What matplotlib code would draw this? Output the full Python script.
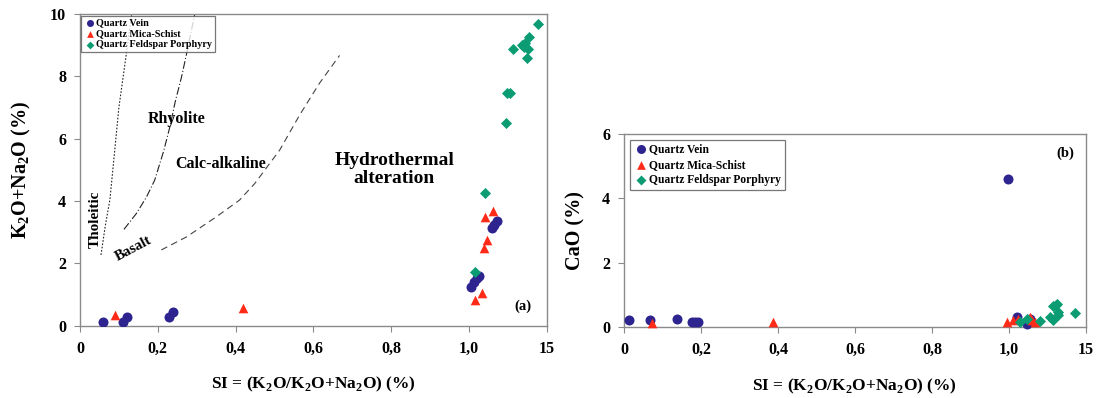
import matplotlib
matplotlib.use("Agg")
import matplotlib.pyplot as plt
from matplotlib.ticker import FixedLocator

plt.rcParams['font.family'] = ['Liberation Serif', 'DejaVu Serif']
plt.rcParams['font.weight'] = 'bold'
plt.rcParams['mathtext.fontset'] = 'custom'
plt.rcParams['mathtext.rm'] = 'Liberation Serif:bold'
plt.rcParams['mathtext.bf'] = 'Liberation Serif:bold'

# ---------------- data: panel (a) K2O+Na2O vs SI ----------------
vein_a_si = [0.059, 0.111, 0.120, 0.228, 0.239, 1.004, 1.013, 1.021, 1.026, 1.058, 1.064, 1.071]
vein_a_alk = [0.13, 0.13, 0.29, 0.29, 0.43, 1.25, 1.41, 1.52, 1.59, 3.12, 3.23, 3.37]

schist_a_si = [0.091, 0.420, 1.015, 1.032, 1.038, 1.045, 1.041, 1.062]
schist_a_alk = [0.34, 0.56, 0.82, 1.04, 2.48, 2.75, 3.49, 3.69]

porph_a_si = [1.015, 1.041, 1.094, 1.097, 1.105, 1.114, 1.135, 1.144, 1.154, 1.152, 1.148, 1.140, 1.178]
porph_a_alk = [1.73, 4.26, 6.49, 7.47, 7.47, 8.89, 9.02, 9.07, 9.26, 8.89, 8.59, 8.95, 9.67]

# field boundaries
thol_si = [0.054, 0.065, 0.077, 0.100, 0.120, 0.133]
thol_alk = [2.27, 3.20, 4.05, 7.00, 8.80, 10.0]

rhyo_si = [0.113, 0.145, 0.171, 0.192, 0.215, 0.231, 0.245, 0.261, 0.274, 0.295]
rhyo_alk = [3.09, 3.60, 4.13, 4.67, 5.60, 6.38, 7.20, 7.98, 8.73, 10.0]

calc_si = [0.209, 0.274, 0.350, 0.410, 0.449, 0.513, 0.564, 0.615, 0.667]
calc_alk = [2.43, 2.85, 3.49, 4.03, 4.56, 5.63, 6.75, 7.77, 8.67]

# ---------------- data: panel (b) CaO vs SI ----------------
vein_b_si = [0.014, 0.067, 0.137, 0.176, 0.185, 0.193, 0.998, 1.020, 1.046, 1.056]
vein_b_cao = [0.22, 0.22, 0.24, 0.17, 0.17, 0.17, 4.60, 0.30, 0.10, 0.25]

schist_b_si = [0.073, 0.386, 0.996, 1.011, 1.024, 1.054, 1.060, 1.067]
schist_b_cao = [0.13, 0.17, 0.17, 0.22, 0.24, 0.30, 0.22, 0.17]

porph_b_si = [1.028, 1.048, 1.082, 1.107, 1.114, 1.114, 1.123, 1.127, 1.127, 1.125, 1.171]
porph_b_cao = [0.17, 0.24, 0.19, 0.32, 0.22, 0.64, 0.68, 0.47, 0.37, 0.70, 0.45]

x_ticks = [0, 0.2, 0.4, 0.6, 0.8, 1.0, 1.2]
x_tick_labels = ["0", "0,2", "0,4", "0,6", "0,8", "1,0", "15"]

series_names = ["Quartz Vein", "Quartz Mica-Schist", "Quartz Feldspar Porphyry"]
colors = ["#2e2490", "#ff2a17", "#0c9c73"]
markers = ["o", "^", "D"]
sizes = [52, 48, 32]

XLABEL = r"SI = (K$_2$O/K$_2$O+Na$_2$O) (%)"
spine_col = "#8a8a8a"

fig = plt.figure(figsize=(10.97, 3.98), dpi=100)
ax_a = fig.add_axes([0.0729, 0.1817, 0.4257, 0.7831])
ax_b = fig.add_axes([0.5688, 0.1784, 0.4211, 0.4849])


def style_axes(ax, ymax):
    ax.set_xlim(0, 1.2)
    ax.set_ylim(0, ymax)
    ax.xaxis.set_major_locator(FixedLocator(x_ticks))
    ax.set_xticklabels(x_tick_labels)
    for s in ax.spines.values():
        s.set_color(spine_col)
        s.set_linewidth(1.0)
    ax.tick_params(axis='both', direction='out', length=4, width=0.8,
                   color=spine_col, labelsize=11.5)
    ax.tick_params(axis='x', pad=7)
    ax.tick_params(axis='y', pad=6)
    ax.set_xlabel(XLABEL, fontsize=12.5, fontweight='bold', labelpad=13)


# ---- panel (a)
style_axes(ax_a, 10)
ax_a.set_yticks([0, 2, 4, 6, 8, 10])
ax_a.set_ylabel(r"K$_2$O+Na$_2$O (%)", fontsize=14.5, fontweight='bold', labelpad=12)

ax_a.plot(thol_si, thol_alk, color="#222222", lw=0.8, ls=(0, (1.5, 1.5)), zorder=1)
ax_a.plot(rhyo_si, rhyo_alk, color="#222222", lw=0.8, ls=(0, (7, 2, 1, 2)), zorder=1)
ax_a.plot(calc_si, calc_alk, color="#444444", lw=0.8, ls=(0, (6, 4)), zorder=1)

data_a = [(vein_a_si, vein_a_alk), (schist_a_si, schist_a_alk), (porph_a_si, porph_a_alk)]
for (xs, ys), name, c, m, s in zip(data_a, series_names, colors, markers, sizes):
    ax_a.scatter(xs, ys, s=s, c=c, marker=m, label=name, linewidths=0, zorder=3)

ax_a.text(0.248, 6.62, "Rhyolite", fontsize=11.5, fontweight='bold', ha='center', va='center')
ax_a.text(0.361, 5.2, "Calc-alkaline", fontsize=11.5, fontweight='bold', ha='center', va='center')
ax_a.text(0.808, 5.0, "Hydrothermal\nalteration", fontsize=14, fontweight='bold',
          ha='center', va='center', linespacing=1.1)
ax_a.text(0.038, 3.42, "Tholeitic", fontsize=11, fontweight='bold', ha='center',
          va='center', rotation=90)
ax_a.text(0.137, 2.48, "Basalt", fontsize=10.5, fontweight='bold', ha='center',
          va='center', rotation=28)
ax_a.text(1.138, 0.61, "(a)", fontsize=10.5, fontweight='bold', ha='center', va='center')

leg_a = ax_a.legend(loc='upper left', fontsize=7.3, frameon=True, fancybox=False,
                    borderpad=0.25, labelspacing=0.2, handletextpad=0.0,
                    handlelength=1.2, borderaxespad=0.15, markerscale=0.7)
leg_a.get_frame().set_edgecolor("#555555")
leg_a.get_frame().set_linewidth(0.9)
leg_a.set_zorder(5)

# ---- panel (b)
style_axes(ax_b, 6)
ax_b.set_yticks([0, 2, 4, 6])
ax_b.set_ylabel("CaO (%)", fontsize=14.5, fontweight='bold', labelpad=12)

data_b = [(vein_b_si, vein_b_cao), (schist_b_si, schist_b_cao), (porph_b_si, porph_b_cao)]
for (xs, ys), name, c, m, s in zip(data_b, series_names, colors, markers, sizes):
    ax_b.scatter(xs, ys, s=s, c=c, marker=m, label=name, linewidths=0, zorder=3,
                 clip_on=False)

ax_b.text(1.146, 5.4, "(b)", fontsize=10.5, fontweight='bold', ha='center', va='center')

leg_b = ax_b.legend(loc='upper left', fontsize=8.3, frameon=True, fancybox=False,
                    borderpad=0.3, labelspacing=0.3, handletextpad=0.1,
                    handlelength=1.3, borderaxespad=0.5, markerscale=0.9)
leg_b.get_frame().set_edgecolor("#555555")
leg_b.get_frame().set_linewidth(0.9)

fig.savefig("out.png", dpi=100)
